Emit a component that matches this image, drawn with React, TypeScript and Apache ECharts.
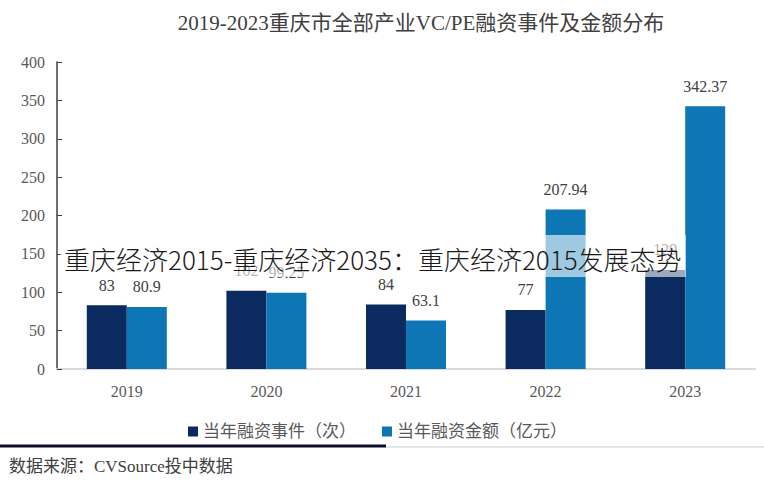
import React, { useEffect, useRef } from "react";
import * as echarts from "echarts";

const years = ["2019", "2020", "2021", "2022", "2023"];
const events = [83, 102, 84, 77, 129];
const amounts = [80.9, 99.25, 63.1, 207.94, 342.37];
const yTicks = { min: 0, max: 400, interval: 50 };
const titleText = "2019-2023重庆市全部产业VC/PE融资事件及金额分布";
const seriesNames = ["当年融资事件（次）", "当年融资金额（亿元）"];
const sourceText = "数据来源：CVSource投中数据";
const watermark = "重庆经济2015-重庆经济2035：重庆经济2015发展态势";

const SERIF = "'Liberation Serif', 'DejaVu Serif', 'Noto Sans CJK SC', serif";

export default function App() {
  const ref = useRef<HTMLDivElement>(null);
  useEffect(() => {
    if (!ref.current) return;
    const chart = echarts.init(ref.current, undefined, { renderer: "svg" });
    chart.setOption({
      animation: false,
      backgroundColor: "#ffffff",
      title: {
        text: titleText,
        left: 416,
        top: 7,
        textAlign: "center",
        textStyle: { fontFamily: SERIF, fontSize: 21, fontWeight: "normal", color: "#404040" },
      },
      legend: {
        data: seriesNames,
        left: 183,
        top: 418,
        itemWidth: 10,
        itemHeight: 10,
        itemGap: 26,
        icon: "rect",
        textStyle: { fontFamily: SERIF, fontSize: 17, color: "#595959" },
      },
      grid: { left: 57, right: 9, top: 62, bottom: 128, containLabel: false },
      xAxis: {
        type: "category",
        data: years,
        axisLine: { lineStyle: { color: "#d9d9d9", width: 2 } },
        axisTick: { show: false },
        axisLabel: { fontFamily: SERIF, fontSize: 16, color: "#595959", margin: 14 },
      },
      yAxis: {
        type: "value",
        min: yTicks.min,
        max: yTicks.max,
        interval: yTicks.interval,
        splitLine: { show: false },
        axisLine: { show: true, lineStyle: { color: "#404040", width: 1.5 } },
        axisTick: { show: true, inside: true, length: 5, lineStyle: { color: "#404040" } },
        axisLabel: { fontFamily: SERIF, fontSize: 16, color: "#595959", margin: 12 },
      },
      series: [
        {
          name: seriesNames[0],
          type: "bar",
          data: events,
          barWidth: 40,
          barGap: "0%",
          itemStyle: { color: "#0a2a60" },
          label: {
            show: true,
            position: "top",
            distance: 12,
            fontFamily: SERIF,
            fontSize: 16,
            color: "#404040",
          },
        },
        {
          name: seriesNames[1],
          type: "bar",
          data: amounts,
          barWidth: 40,
          barGap: "0%",
          itemStyle: { color: "#0f76b5" },
          label: {
            show: true,
            position: "top",
            distance: 12,
            fontFamily: SERIF,
            fontSize: 16,
            color: "#404040",
          },
        },
      ],
      graphic: [
        {
          type: "rect",
          z: 100,
          shape: { x: 60, y: 235, width: 626, height: 42 },
          style: { fill: "rgba(255,255,255,0.6)" },
        },
        {
          type: "text",
          z: 101,
          x: 64,
          y: 258,
          style: {
            text: watermark,
            fontFamily: "'Noto Sans CJK SC', sans-serif",
            fontSize: 26,
            fontWeight: 300,
            fill: "#1a1a1a",
            textVerticalAlign: "middle",
          },
        },
        {
          type: "line",
          z: 100,
          shape: { x1: 0, y1: 446, x2: 386, y2: 446 },
          style: { stroke: "#0d0d2e", lineWidth: 3 },
        },
        {
          type: "line",
          z: 100,
          shape: { x1: 386, y1: 447, x2: 764, y2: 447 },
          style: { stroke: "#e6e6e6", lineWidth: 2 },
        },
        {
          type: "text",
          z: 100,
          x: 9,
          y: 466,
          style: {
            text: sourceText,
            fontFamily: SERIF,
            fontSize: 17,
            fill: "#404040",
            textVerticalAlign: "middle",
          },
        },
      ],
    });
    return () => chart.dispose();
  }, []);
  return <div ref={ref} style={{ width: 764, height: 497, position: "absolute", left: 0, top: 0 }} />;
}
